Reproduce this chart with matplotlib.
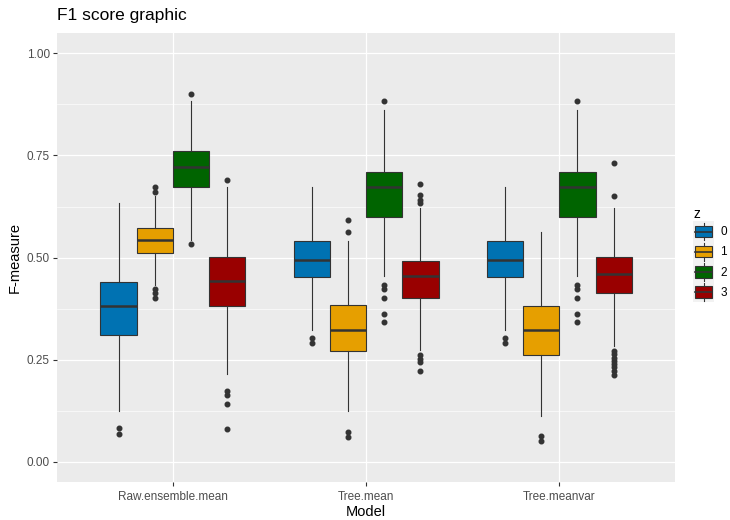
import matplotlib
matplotlib.use('Agg')
import matplotlib.pyplot as plt
from matplotlib.patches import Rectangle, Patch
from matplotlib.lines import Line2D
from matplotlib.legend_handler import HandlerBase

plt.rcParams['font.family'] = ['Liberation Sans', 'DejaVu Sans']

models = ['Raw.ensemble.mean', 'Tree.mean', 'Tree.meanvar']
groups = ['0', '1', '2', '3']
colors = ['#0072B2', '#E69F00', '#006400', '#990000']

# box statistics per model (rows) and z group (columns)
whislo = [[0.123, 0.433, 0.544, 0.214],
          [0.323, 0.123, 0.455, 0.273],
          [0.323, 0.112, 0.455, 0.283]]
q1 = [[0.311, 0.511, 0.672, 0.381],
      [0.452, 0.271, 0.600, 0.402],
      [0.452, 0.262, 0.600, 0.412]]
med = [[0.382, 0.542, 0.723, 0.442],
       [0.493, 0.323, 0.674, 0.454],
       [0.493, 0.323, 0.674, 0.459]]
q3 = [[0.441, 0.572, 0.760, 0.501],
      [0.541, 0.383, 0.710, 0.491],
      [0.541, 0.381, 0.710, 0.501]]
whishi = [[0.633, 0.650, 0.883, 0.673],
          [0.673, 0.541, 0.862, 0.622],
          [0.673, 0.562, 0.862, 0.622]]
fliers = [
    [[0.083, 0.068], [0.673, 0.661, 0.422, 0.413, 0.402], [0.901, 0.532],
     [0.691, 0.174, 0.163, 0.142, 0.081]],
    [[0.303, 0.290], [0.591, 0.562, 0.072, 0.061],
     [0.883, 0.432, 0.422, 0.402, 0.362, 0.341],
     [0.681, 0.653, 0.642, 0.633, 0.262, 0.252, 0.243, 0.222]],
    [[0.303, 0.290], [0.062, 0.050],
     [0.883, 0.432, 0.422, 0.402, 0.362, 0.341],
     [0.731, 0.650, 0.271, 0.263, 0.255, 0.247, 0.239, 0.231, 0.222, 0.212]],
]

yticks = [0.0, 0.25, 0.5, 0.75, 1.0]
ytick_labels = ['0.00', '0.25', '0.50', '0.75', '1.00']

dark = '#333333'
fig = plt.figure(figsize=(7.3, 5.2), dpi=100)
ax = fig.add_axes([0.078, 0.073, 0.847, 0.8635])
ax.set_facecolor('#EBEBEB')

dodge = 0.75
bw = dodge / len(groups)
for i in range(len(models)):
    for j in range(len(groups)):
        pos = i + 1 - dodge / 2 + bw * (j + 0.5)
        stats = [dict(whislo=whislo[i][j], q1=q1[i][j], med=med[i][j],
                      q3=q3[i][j], whishi=whishi[i][j], fliers=fliers[i][j])]
        ax.bxp(stats, positions=[pos], widths=bw, patch_artist=True,
               showcaps=False, manage_ticks=False,
               boxprops=dict(facecolor=colors[j], edgecolor=dark, linewidth=0.8),
               medianprops=dict(color=dark, linewidth=1.8),
               whiskerprops=dict(color=dark, linewidth=0.8),
               flierprops=dict(marker='o', markerfacecolor=dark,
                               markeredgecolor=dark, markersize=3.3))

ax.set_xlim(0.4, 3.6)
ax.set_ylim(-0.05, 1.05)
ax.set_xticks([1, 2, 3])
ax.set_xticklabels(models)
ax.set_yticks(yticks)
ax.set_yticklabels(ytick_labels)
ax.set_yticks([0.125, 0.375, 0.625, 0.875], minor=True)
ax.grid(True, which='major', color='white', linewidth=0.9)
ax.grid(True, which='minor', axis='y', color='white', linewidth=0.45)
ax.set_axisbelow(True)
for s in ax.spines.values():
    s.set_visible(False)
ax.tick_params(which='major', length=3, width=0.8, color=dark,
               labelsize=8.5, labelcolor='#4D4D4D', pad=2)
ax.tick_params(axis='x', pad=3.5)
ax.tick_params(which='minor', length=0)

ax.set_xlabel('Model', fontsize=10.5, labelpad=1.5)
ax.set_ylabel('F-measure', fontsize=10.5, labelpad=4)
fig.text(0.078, 0.955, 'F1 score graphic', fontsize=12.5, ha='left', va='bottom')


class BoxKey(HandlerBase):
    # small boxplot glyph on a light key background
    def create_artists(self, legend, orig_handle, xdescent, ydescent,
                       width, height, fontsize, trans):
        x0, y0 = -xdescent, -ydescent
        cx = x0 + width / 2
        bg = Rectangle((x0, y0), width, height, facecolor='#F2F2F2',
                       edgecolor='none', transform=trans)
        box = Rectangle((x0 + width * 0.1, y0 + height * 0.22),
                        width * 0.8, height * 0.56,
                        facecolor=orig_handle.get_facecolor(),
                        edgecolor=dark, linewidth=0.8, transform=trans)
        mid = Line2D([x0 + width * 0.1, x0 + width * 0.9],
                     [y0 + height / 2] * 2, color=dark, linewidth=1.2,
                     transform=trans)
        w1 = Line2D([cx, cx], [y0 + height * 0.06, y0 + height * 0.22],
                    color=dark, linewidth=0.8, transform=trans)
        w2 = Line2D([cx, cx], [y0 + height * 0.78, y0 + height * 0.94],
                    color=dark, linewidth=0.8, transform=trans)
        return [bg, box, mid, w1, w2]


handles = [Patch(facecolor=c) for c in colors]
leg = fig.legend(handles, groups, title='z', loc='center left',
                 bbox_to_anchor=(0.938, 0.51), frameon=False,
                 handler_map={Patch: BoxKey()}, fontsize=8.5,
                 title_fontsize=10, handlelength=1.8, handleheight=2.25,
                 labelspacing=0.0, handletextpad=0.5, borderpad=0.2)
leg._legend_box.align = 'left'

fig.savefig('out.png', dpi=100)
